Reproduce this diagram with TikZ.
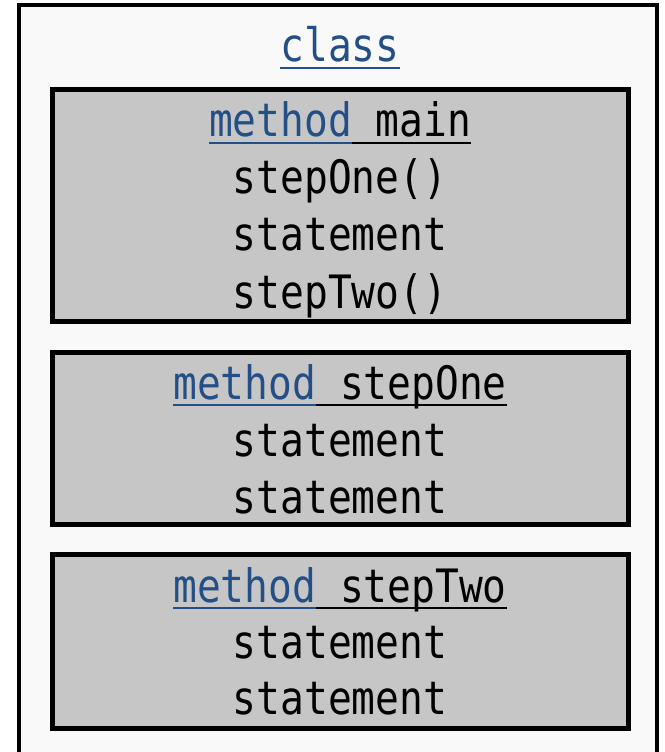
\documentclass[tikz,border=0pt]{standalone}
\usepackage{fontspec}
\newfontfamily\codefont[FakeStretch=0.86]{DejaVu Sans Mono}
\definecolor{kwblue}{HTML}{244F86}
\definecolor{panel}{HTML}{F9F9F9}
\definecolor{methodfill}{HTML}{C6C6C6}
% underlined segment in a given colour, rule kept at a fixed depth
\newcommand\ulseg[2]{{\color{#1}\setbox0\hbox{#2}\rlap{\rule[-7pt]{\wd0}{2pt}}\box0}}
\begin{document}
\begin{tikzpicture}[x=1pt,y=-1pt,
  codeline/.style={font={\codefont\fontsize{46}{50}\selectfont}, inner sep=0pt, anchor=base},
  methodbox/.style={draw=black, line width=5pt, fill=methodfill, inner sep=0pt,
    minimum width=576pt},
  classbox/.style={draw=black, line width=4pt, fill=panel}]
\useasboundingbox (0,0) rectangle (664,752);
\clip (0,0) rectangle (664,752);
\fill[white] (0,0) rectangle (664,752);

% class frame (runs past the lower edge)
\draw[classbox] (19,5.5) rectangle (656.5,780);
\node[codeline] (cls) at (340,62) {\ulseg{kwblue}{class}};

% method main
\node[methodbox, minimum height=232pt] (mainbox) at (340,205.5) {};
\node[codeline] (mainhead) at (340,136.5) {\ulseg{kwblue}{method}\ulseg{black}{\ main}};
\node[codeline] (mainl1) at (340,193.5) {stepOne()};
\node[codeline] (mainl2) at (340,250.5) {statement};
\node[codeline] (mainl3) at (340,308) {stepTwo()};

% method stepOne
\node[methodbox, minimum height=172.5pt] (onebox) at (340,438.25) {};
\node[codeline] (onehead) at (340,399) {\ulseg{kwblue}{method}\ulseg{black}{\ stepOne}};
\node[codeline] (onel1) at (340,456) {statement};
\node[codeline] (onel2) at (340,513) {statement};

% method stepTwo
\node[methodbox, minimum height=174.5pt] (twobox) at (340,641.25) {};
\node[codeline] (twohead) at (340,602) {\ulseg{kwblue}{method}\ulseg{black}{\ stepTwo}};
\node[codeline] (twol1) at (340,658) {statement};
\node[codeline] (twol2) at (340,714) {statement};
\end{tikzpicture}
\end{document}
